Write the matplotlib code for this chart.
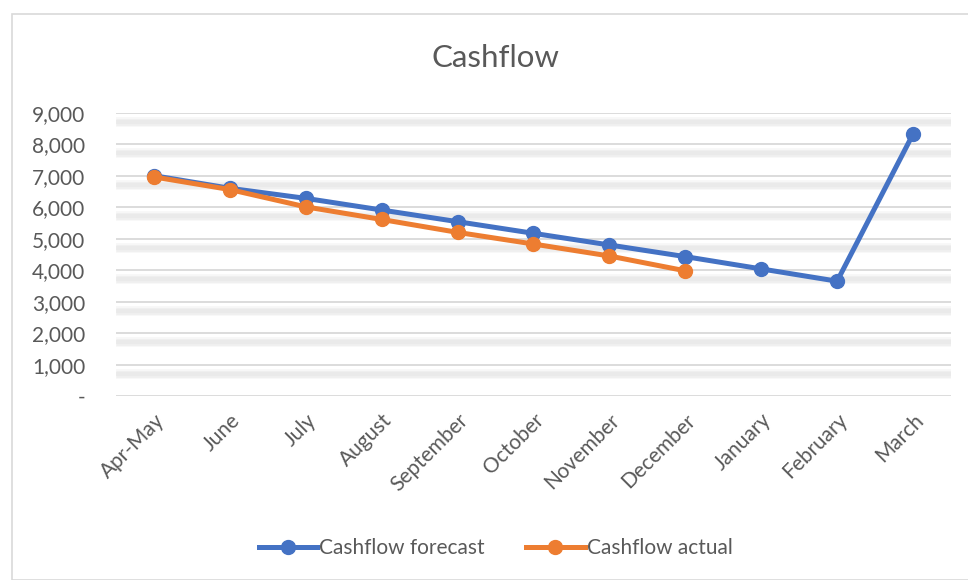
import matplotlib
matplotlib.use("Agg")
import matplotlib.pyplot as plt
import matplotlib.transforms as mtransforms
from matplotlib.patches import Rectangle
import numpy as np

months = ["Apr-May", "June", "July", "August", "September", "October",
          "November", "December", "January", "February", "March"]
forecast = [7000, 6600, 6280, 5910, 5540, 5170, 4800, 4430, 4040, 3650, 8320]
actual = [6960, 6560, 6010, 5610, 5200, 4830, 4450, 3980]
yticks = [0, 1000, 2000, 3000, 4000, 5000, 6000, 7000, 8000, 9000]

plt.rcParams["font.family"] = ["Lato", "DejaVu Sans"]
text_col = "#595959"
blue = "#4472C4"
orange = "#ED7D31"

fig = plt.figure(figsize=(9.68, 5.8), dpi=100)
ax = fig.add_axes([0.1198, 0.317, 0.8626, 0.4887])

# chart border
fig.patches.append(Rectangle((12 / 968, 0), 1.0, 1 - 14 / 580, transform=fig.transFigure,
                             fill=False, edgecolor="#D9D9D9", lw=1.2))

# gridlines with soft shadow below
for y in yticks:
    ax.axhline(y, color="#D9D9D9", lw=1.3, zorder=1)
    for lw, a in [(7, 0.25), (5, 0.35), (3, 0.45)]:
        tr = ax.get_yaxis_transform() + mtransforms.ScaledTranslation(0, -9 / 100, fig.dpi_scale_trans)
        ax.plot([0, 1], [y, y], transform=tr, color="#E3E3E3", lw=lw, alpha=a,
                solid_capstyle="butt", zorder=0.5)

x = np.arange(len(months))
ax.plot(x, forecast, color=blue, lw=3.6, marker="o", ms=10, label="Cashflow forecast", zorder=3)
ax.plot(x[:len(actual)], actual, color=orange, lw=3.6, marker="o", ms=10, label="Cashflow actual", zorder=4)

ax.set_xlim(-0.5, len(months) - 0.5)
ax.set_ylim(0, 9000)
ax.set_yticks(yticks)
ax.set_yticklabels(["-" if v == 0 else f"{v:,}" for v in yticks])
ax.set_xticks(x)
ax.set_xticklabels(months, rotation=45, ha="right", rotation_mode="anchor")
ax.tick_params(axis="both", length=0, labelsize=15, colors=text_col)
ax.tick_params(axis="y", pad=22)
ax.tick_params(axis="x", pad=10)
for s in ax.spines.values():
    s.set_visible(False)

fig.text(0.512, 0.9, "Cashflow", ha="center", va="center", fontsize=22.5, color=text_col)

leg = fig.legend(loc="center", bbox_to_anchor=(0.512, 0.055), ncol=2, frameon=False,
                 fontsize=15, handlelength=2.8, handletextpad=0.1, columnspacing=2.0)
for t in leg.get_texts():
    t.set_color(text_col)

fig.savefig("out.png", dpi=100)
